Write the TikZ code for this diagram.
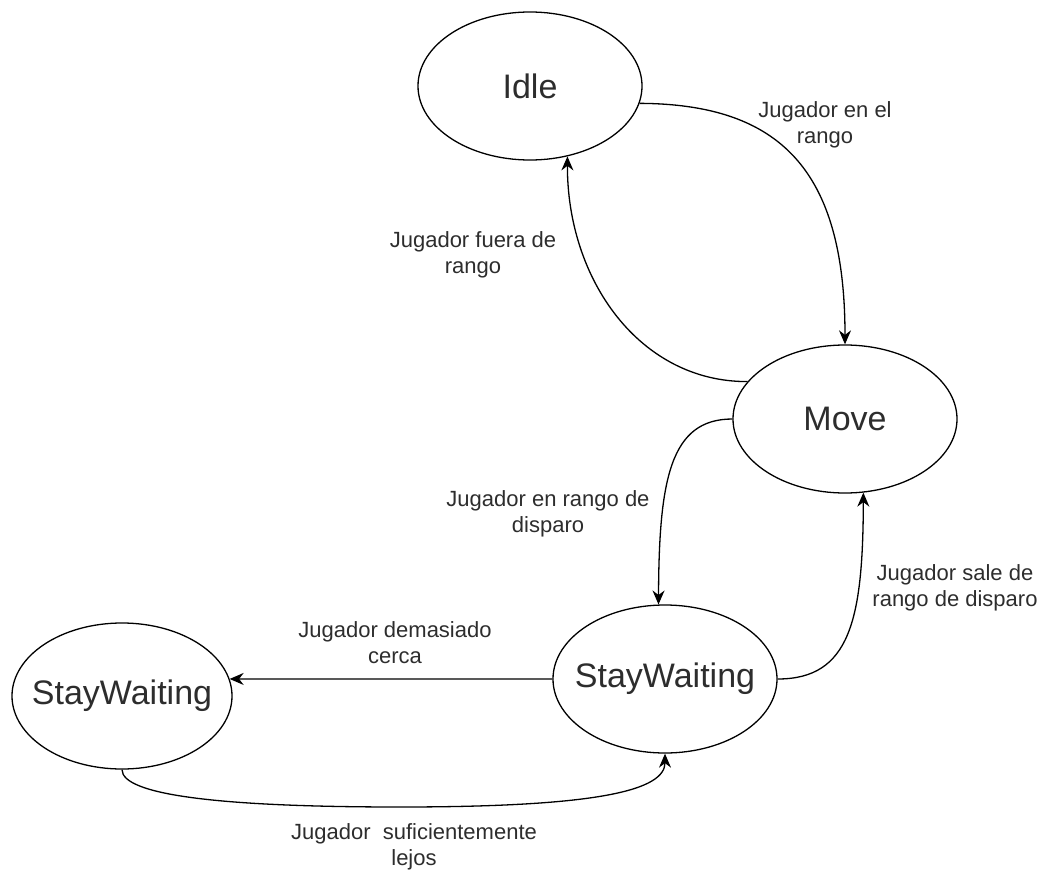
\documentclass[tikz,border=0pt]{standalone}
\usepackage{fontspec}
\setmainfont{Liberation Sans}
\usetikzlibrary{shapes.geometric,arrows.meta}
\definecolor{txt}{RGB}{45,45,45}
\begin{document}
\begin{tikzpicture}[x=1pt,y=-1pt,
  state/.style={ellipse,draw,line width=1.3pt,minimum width=224pt,minimum height=148pt,
    inner sep=0pt,font=\fontsize{34}{40}\selectfont,text=txt},
  lbl/.style={align=center,font=\fontsize{22}{26}\selectfont,text=txt,inner sep=0pt},
  link/.style={line width=1.3pt,-{Stealth[length=14pt,width=12pt]}}]
\useasboundingbox (0,0) rectangle (1042,870);

% states
\node[state] (idle) at (530,86) {\makebox[0pt]{Idle}};
\node[state] (move) at (845,419) {\makebox[0pt]{Move}};
\node[state] (sw) at (665,679) {\makebox[0pt]{StayWaiting}};
\node[state,minimum width=220pt,minimum height=146pt] (sw2) at (122,696) {\makebox[0pt]{StayWaiting}};

% transitions
\draw[link] (idle.-9) .. controls (780,104) and (845,170) .. (move.north);
\draw[link] (move.159) .. controls (640,382) and (567,280) .. (idle.-62);
\draw[link] (move.west) .. controls (670,419) and (659,480) .. (sw.95);
\draw[link] (sw.east) .. controls (850,679) and (863,620) .. (move.-76);
\draw[link] (sw.west) -- (sw2.9);
\draw[link] (sw2.south) .. controls (122,795) and (220,807) .. (400,807)
  .. controls (600,807) and (665,790) .. (sw.south);

% transition labels
\node[lbl] (l1) at (825,124.5) {Jugador en el\\rango};
\node[lbl] (l2) at (473,254.5) {Jugador fuera de\\rango};
\node[lbl] (l3) at (548,514) {Jugador en rango de\\disparo};
\node[lbl] (l4) at (955,588) {Jugador sale de\\rango de disparo};
\node[lbl] (l5) at (395,643) {Jugador demasiado\\cerca};
\node[lbl] (l6) at (414,847) {Jugador\ \ suficientemente\\lejos};
\end{tikzpicture}
\end{document}
